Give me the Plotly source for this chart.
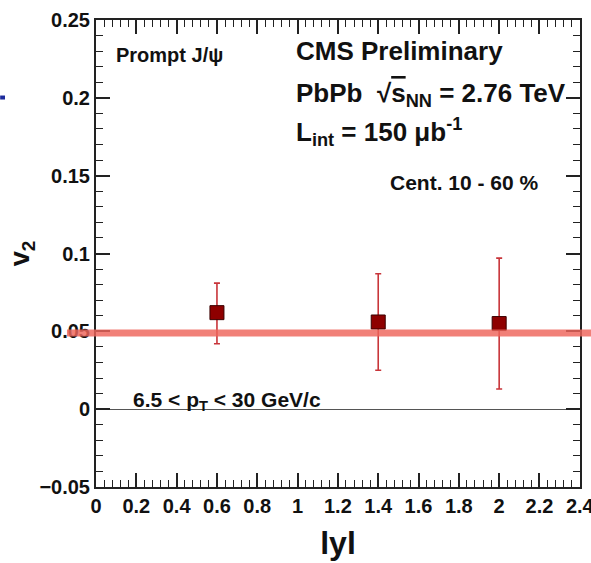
import plotly.graph_objects as go

# Prompt J/psi v2 versus rapidity, 10-60% centrality
rapidity = [0.6, 1.4, 2.0]
v2 = [0.062, 0.056, 0.055]
err_up = [0.019, 0.031, 0.042]
err_down = [0.020, 0.031, 0.042]

# reference v2 level drawn as a horizontal band
band_level = 0.049

FONT = "Liberation Sans, Arial, Helvetica, sans-serif"

fig = go.Figure()

fig.add_trace(go.Scatter(
    x=rapidity, y=v2, mode="markers",
    marker=dict(symbol="square", size=14, color="#8e0000",
                line=dict(color="#3a0000", width=1)),
    error_y=dict(type="data", symmetric=False, array=err_up, arrayminus=err_down,
                 color="#c8353a", thickness=1.6, width=3),
    showlegend=False,
))

# band across the full figure width
fig.add_shape(type="line", xref="paper", yref="y",
              x0=-0.06, x1=1.03, y0=band_level, y1=band_level,
              line=dict(color="rgba(238,100,90,0.82)", width=7), layer="above")

# small blue fragment at the left edge
fig.add_shape(type="line", xref="paper", yref="paper",
              x0=-0.198, x1=-0.188, y0=0.834, y1=0.834,
              line=dict(color="#1c2a9c", width=4), layer="above")

axis_common = dict(
    showline=True, linecolor="#222", linewidth=2, mirror="ticks",
    ticks="inside", tickcolor="#222", tickwidth=1.5, ticklen=14,
    showgrid=False, ticklabeloverflow="allow",
    tickfont=dict(family=FONT, size=20, color="#111", weight="bold"),
)

fig.update_xaxes(
    range=[0, 2.401], dtick=0.2, tick0=0,
    minor=dict(ticks="inside", dtick=0.04, ticklen=7, tickcolor="#222", tickwidth=1.2),
    zeroline=False,
    title=dict(text="lyl", font=dict(family=FONT, size=32, color="#111", weight="bold"),
               standoff=16),
    **axis_common,
)
fig.update_yaxes(
    range=[-0.05, 0.25], dtick=0.05, tick0=0,
    minor=dict(ticks="inside", dtick=0.01, ticklen=7, tickcolor="#222", tickwidth=1.2),
    zeroline=True, zerolinecolor="#555", zerolinewidth=1,
    title=dict(text="v<sub>2</sub>", font=dict(family=FONT, size=27, color="#111", weight="bold"),
               standoff=2),
    **axis_common,
)

def label(text, x, y, size):
    fig.add_annotation(text=text, xref="paper", yref="paper", x=x, y=y,
                       xanchor="left", yanchor="middle", showarrow=False,
                       font=dict(family=FONT, size=size, color="#111", weight="bold"))

label("Prompt J/\u03c8", 0.037, 0.925, 20)
label("CMS Preliminary", 0.410, 0.934, 26)
label("PbPb  \u221a<span style='text-decoration:overline'>s</span><sub>NN</sub> = 2.76 TeV",
      0.410, 0.840, 26)
label("L<sub>int</sub> = 150 \u03bcb<sup>-1</sup>", 0.410, 0.760, 26)
label("Cent. 10 - 60 %", 0.604, 0.651, 21)
label("6.5 < p<sub>T</sub> < 30 GeV/c", 0.072, 0.184, 21)

fig.update_layout(
    width=591, height=563,
    margin=dict(l=96, r=11, t=20, b=76, autoexpand=False),
    paper_bgcolor="white", plot_bgcolor="white",
)

fig.write_html("out.html")
